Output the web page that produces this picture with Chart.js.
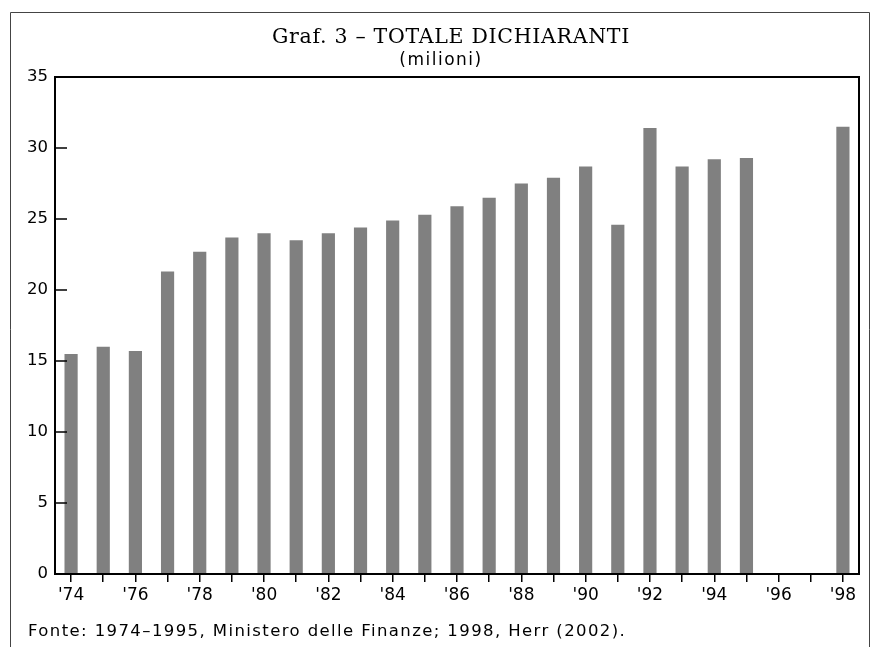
<!DOCTYPE html>
<html>
<head>
<meta charset="utf-8">
<script src="https://cdn.jsdelivr.net/npm/chart.js@4"></script>
<style>
  html, body { margin: 0; padding: 0; background: #fff; }
  #wrap { position: relative; width: 880px; height: 647px; }
</style>
</head>
<body>
<div id="wrap"><canvas id="graf3" width="880" height="647"></canvas></div>
<script>
const years = ["'74", "'75", "'76", "'77", "'78", "'79", "'80", "'81", "'82", "'83", "'84", "'85",
               "'86", "'87", "'88", "'89", "'90", "'91", "'92", "'93", "'94", "'95", "'96", "'97", "'98"];
// totale dichiaranti, milioni (1996-97 non disponibili)
const dichiaranti = [15.5, 16.0, 15.7, 21.3, 22.7, 23.7, 24.0, 23.5, 24.0, 24.4, 24.9, 25.3,
                     25.9, 26.5, 27.5, 27.9, 28.7, 24.6, 31.4, 28.7, 29.2, 29.3, null, null, 31.5];
const yTicks = [0, 5, 10, 15, 20, 25, 30, 35];
const titleText = "Graf. 3 \u2013 TOTALE DICHIARANTI";
const subtitleText = "(milioni)";
const sourceText = "Fonte: 1974\u20131995, Ministero delle Finanze; 1998, Herr (2002).";

const sans = "'DejaVu Sans', sans-serif";
const serif = "'DejaVu Serif', serif";

// cornice, titoli, riquadro del grafico, tacche interne asse y, nota fonte
const framePlugin = {
    id: "frame",
    beforeDraw: (chart) => {
        const ctx = chart.ctx;
        ctx.save();
        ctx.strokeStyle = "#444";
        ctx.lineWidth = 1;
        ctx.beginPath();
        ctx.moveTo(10.5, 647);
        ctx.lineTo(10.5, 12.5);
        ctx.lineTo(869.5, 12.5);
        ctx.lineTo(869.5, 647);
        ctx.stroke();
        ctx.restore();
    },
    afterDraw: (chart) => {
        const ctx = chart.ctx;
        const a = chart.chartArea;
        const y = chart.scales.y;
        ctx.save();
        ctx.strokeStyle = "#000";
        ctx.lineWidth = 2;
        ctx.strokeRect(a.left, a.top, a.right - a.left, a.bottom - a.top);
        ctx.lineWidth = 1.5;
        ctx.beginPath();
        yTicks.forEach(v => {
            const py = y.getPixelForValue(v);
            ctx.moveTo(a.left, py);
            ctx.lineTo(a.left + 12, py);
        });
        ctx.stroke();

        ctx.fillStyle = "#000";
        ctx.textBaseline = "middle";
        ctx.textAlign = "center";
        ctx.letterSpacing = "0.7px";
        ctx.font = "20.5px " + serif;
        ctx.fillText(titleText, 451, 38);
        ctx.letterSpacing = "1.5px";
        ctx.font = "17px " + sans;
        ctx.fillText(subtitleText, 441, 61);

        ctx.textAlign = "left";
        ctx.letterSpacing = "1.4px";
        ctx.font = "16.5px " + sans;
        ctx.fillText(sourceText, 28, 632);
        ctx.restore();
    }
};

const ctx = document.getElementById("graf3").getContext("2d");
const chart = new Chart(ctx, {
    type: "bar",
    data: {
        labels: years,
        datasets: [{
            label: "Totale dichiaranti",
            data: dichiaranti,
            backgroundColor: "#808080",
            borderWidth: 0,
            categoryPercentage: 1,
            barPercentage: 0.41
        }]
    },
    options: {
        responsive: false,
        animation: false,
        layout: { padding: { top: 77, right: 21, bottom: 0, left: 0 } },
        plugins: {
            legend: { display: false },
            tooltip: { enabled: false },
            title: { display: false }
        },
        scales: {
            x: {
                grid: { display: true, offset: false, drawOnChartArea: false, drawTicks: true, tickLength: 8, color: "#000", lineWidth: 1.5 },
                border: { display: false },
                ticks: {
                    autoSkip: false,
                    maxRotation: 0,
                    padding: 3,
                    color: "#000",
                    font: { family: sans, size: 17 },
                    callback: function (value, index) {
                        return index % 2 === 0 ? this.getLabelForValue(value) : "";
                    }
                },
                afterFit: (scale) => { scale.height = 73; }
            },
            y: {
                min: 0,
                max: 35,
                grid: { display: false, drawTicks: false },
                border: { display: false },
                ticks: {
                    stepSize: 5,
                    padding: 7,
                    color: "#000",
                    font: { family: sans, size: 16.5 }
                },
                afterFit: (scale) => { scale.width = 55; }
            }
        }
    },
    plugins: [framePlugin]
});
</script>
</body>
</html>
